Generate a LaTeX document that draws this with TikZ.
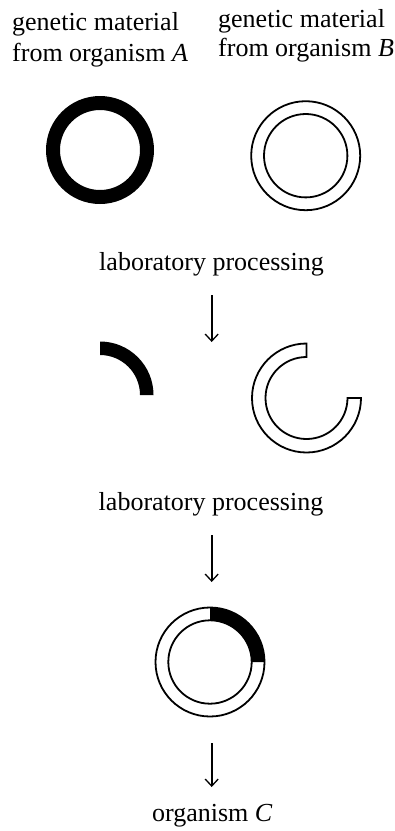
\documentclass[tikz,border=0pt]{standalone}
\usepackage{fontspec}
\setmainfont{Liberation Serif}
\usetikzlibrary{arrows.meta}
\tikzset{
  lbl/.style={inner sep=0pt, font=\fontsize{26}{31}\selectfont},
  ringline/.style={line width=1.8pt},
  flow/.style={line width=1.8pt, -{Straight Barb[length=7pt,width=13pt,line width=1.3pt]}},
}
\begin{document}
\begin{tikzpicture}[x=1pt,y=1pt]
\fill[white] (0,0) rectangle (395,-831);
\useasboundingbox (0,0) rectangle (395,-831);

% labels at top
\node[lbl, anchor=north west, align=left] (ta) at (12,-12)
  {genetic material\\from organism \textit{A}};
\node[lbl, anchor=north west, align=left, font=\fontsize{26}{29}\selectfont] (tb) at (218,-9.5)
  {genetic material\\from organism \textit{B}};

% ring A (solid black)
\fill[black, even odd rule] (100,-150) circle[radius=54pt] (100,-150) circle[radius=40pt];

% ring B (outline)
\draw[ringline] (305.7,-155.7) circle[radius=54.5pt];
\draw[ringline] (305.7,-155.7) circle[radius=41.7pt];

% first processing
\node[lbl, anchor=base] (lp1) at (211.5,-270) {laboratory processing};
\coordinate (a1s) at (211.7,-295);
\coordinate (a1e) at (211.7,-342);
\draw[flow] (a1s) -- (a1e);

% black quarter piece
\fill[black] (100,-341.5) arc[start angle=90,end angle=0,radius=53.5pt]
  -- (140,-395) arc[start angle=0,end angle=90,radius=40pt] -- cycle;

% cut ring B
\draw[ringline, line join=miter] (306.5,-343.5) arc[start angle=90,end angle=360,radius=54.5pt]
  -- (347.5,-398) arc[start angle=0,end angle=-270,radius=41pt] -- cycle;

% second processing
\node[lbl, anchor=base] (lp2) at (211,-510.5) {laboratory processing};
\coordinate (a2s) at (211.7,-535);
\coordinate (a2e) at (211.7,-582);
\draw[flow] (a2s) -- (a2e);

% recombinant ring
\fill[black] (210,-607.5) arc[start angle=90,end angle=0,radius=54.5pt]
  -- (251.7,-662) arc[start angle=0,end angle=90,radius=41.7pt] -- cycle;
\draw[ringline] (210,-662) circle[radius=54.5pt];
\draw[ringline] (210,-662) circle[radius=41.7pt];

% final arrow and label
\coordinate (a3s) at (211.7,-743);
\coordinate (a3e) at (211.7,-787);
\draw[flow] (a3s) -- (a3e);
\node[lbl, anchor=base] (oc) at (212.3,-821.5) {organism \textit{C}};
\end{tikzpicture}
\end{document}
